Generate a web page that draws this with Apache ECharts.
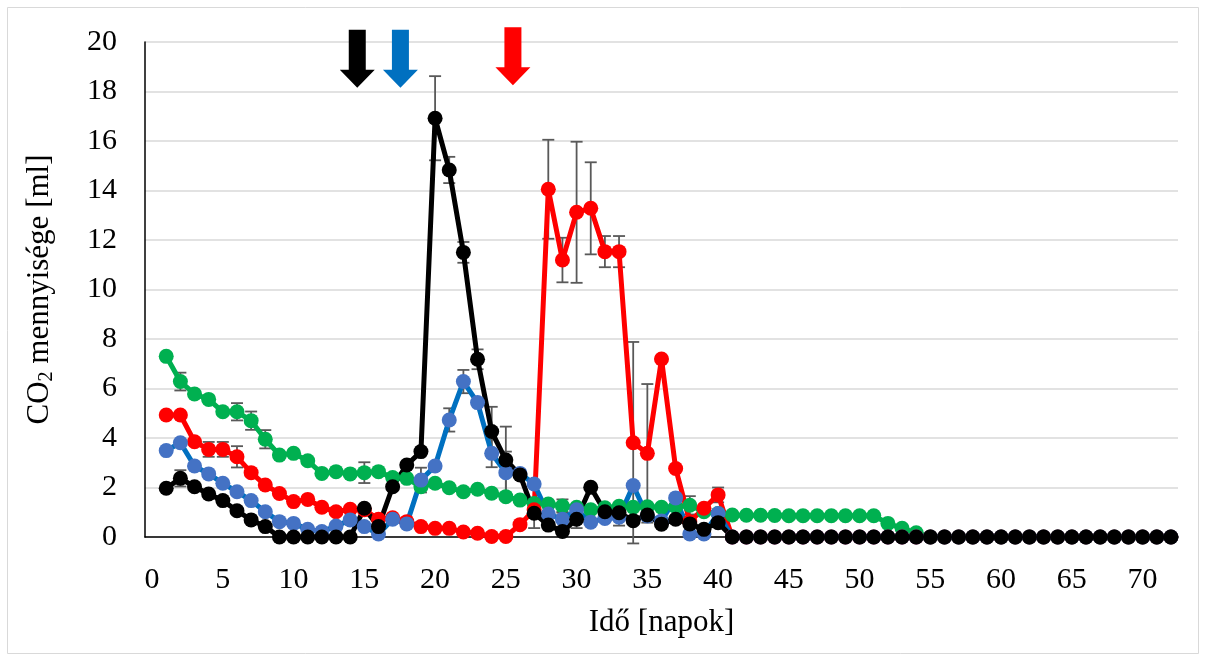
<!DOCTYPE html>
<html lang="hu">
<head>
  <meta charset="UTF-8">
  <title>CO2</title>
  <script src="https://cdn.jsdelivr.net/npm/echarts@6/dist/echarts.min.js"></script>
  <style>
    html, body { margin: 0; padding: 0; background: #fff; }
    #chart { width: 1206px; height: 661px; }
  </style>
</head>
<body>
  <div id="chart"></div>
  <script>
    // napok 1..72, a tengely 0-tól indul
    const days = Array.from({ length: 72 }, (_, i) => i + 1)
    const xCats = Array.from({ length: 73 }, (_, i) => String(i))

    const green = [
      7.3, 6.28, 5.78, 5.56, 5.06, 5.06, 4.7, 3.95, 3.31, 3.38,
      3.08, 2.57, 2.64, 2.55, 2.6, 2.64, 2.4, 2.37, 2.03, 2.17,
      1.99, 1.83, 1.93, 1.77, 1.63, 1.49, 1.35, 1.33, 1.25, 1.2,
      1.1, 1.18, 1.24, 1.2, 1.22, 1.2, 1.22, 1.28, 1.02, 0.95,
      0.89, 0.88, 0.88, 0.87, 0.86, 0.86, 0.86, 0.86, 0.86, 0.86,
      0.86, 0.55, 0.35, 0.17, 0, 0, 0, 0, 0, 0,
      0, 0, 0, 0, 0, 0, 0, 0, 0, 0,
      0, 0
    ]
    const red = [
      4.93, 4.93, 3.85, 3.54, 3.54, 3.24, 2.6, 2.1, 1.76, 1.43,
      1.52, 1.2, 1.02, 1.12, 1.1, 0.72, 0.78, 0.62, 0.42, 0.35,
      0.35, 0.2, 0.15, 0.02, 0.02, 0.5, 1.1, 14.05, 11.19, 13.12,
      13.28, 11.53, 11.53, 3.81, 3.38, 7.19, 2.77, 0.62, 1.16, 1.7,
      0, 0, 0, 0, 0, 0, 0, 0, 0, 0,
      0, 0, 0, 0, 0, 0, 0, 0, 0, 0,
      0, 0, 0, 0, 0, 0, 0, 0, 0, 0,
      0, 0
    ]
    const blue = [
      3.49, 3.81, 2.87, 2.55, 2.17, 1.83, 1.47, 1.02, 0.62, 0.55,
      0.31, 0.22, 0.44, 0.69, 0.42, 0.12, 0.72, 0.53, 2.3, 2.87,
      4.73, 6.28, 5.43, 3.38, 2.6, 2.57, 2.14, 0.93, 0.72, 1.1,
      0.6, 0.75, 0.8, 2.08, 0.85, 0.65, 1.58, 0.12, 0.12, 0.95,
      0, 0, 0, 0, 0, 0, 0, 0, 0, 0,
      0, 0, 0, 0, 0, 0, 0, 0, 0, 0,
      0, 0, 0, 0, 0, 0, 0, 0, 0, 0,
      0, 0
    ]
    const black = [
      1.97, 2.37, 2.03, 1.74, 1.47, 1.06, 0.69, 0.42, 0, 0,
      0, 0, 0, 0, 1.16, 0.42, 2.03, 2.91, 3.45, 16.92,
      14.83, 11.5, 7.18, 4.26, 3.11, 2.51, 0.96, 0.48, 0.22, 0.72,
      2.01, 1.02, 0.98, 0.66, 0.89, 0.52, 0.72, 0.53, 0.31, 0.58,
      0, 0, 0, 0, 0, 0, 0, 0, 0, 0,
      0, 0, 0, 0, 0, 0, 0, 0, 0, 0,
      0, 0, 0, 0, 0, 0, 0, 0, 0, 0,
      0, 0
    ]

    // hibasávok: [nap, +/- hiba]
    const errGreen = [[2, 0.36], [6, 0.35], [7, 0.37], [8, 0.37], [15, 0.42], [29, 0.27], [38, 0.37]]
    const errRed = [[4, 0.3], [5, 0.3], [6, 0.43], [28, 2.0], [29, 0.9], [30, 2.85], [31, 1.86],
      [32, 0.63], [33, 0.63], [34, 4.07], [35, 2.8], [40, 0.3]]
    const errBlue = [[19, 0.5], [21, 0.47], [22, 0.47], [24, 0.56], [25, 0.85], [29, 0.3], [33, 0.34]]
    const errBlack = [[2, 0.33], [20, 1.7], [21, 0.53], [22, 0.42], [23, 0.4], [24, 1.0], [25, 1.35],
      [27, 0.6], [30, 0.36]]

    // nyilak: [nap, felső y, csúcs y]
    const arrows = [
      { value: [14.5, 20.5, 18.15], color: '#000000' },
      { value: [17.55, 20.5, 18.15], color: '#0070C0' },
      { value: [25.5, 20.6, 18.25], color: '#FF0000' }
    ]

    const font = 'Liberation Serif'
    const chart = echarts.init(document.getElementById('chart'))

    function pairs(vals) {
      return days.map((d, i) => [d, vals[i]])
    }

    function errData(vals, errs) {
      return errs.map(e => [e[0], vals[e[0] - 1] - e[1], vals[e[0] - 1] + e[1]])
    }

    function renderErr(params, api) {
      const lo = api.coord([api.value(0), api.value(1)])
      const hi = api.coord([api.value(0), api.value(2)])
      const cap = 6
      const style = { stroke: '#595959', lineWidth: 1.8 }
      return {
        type: 'group',
        children: [
          { type: 'line', shape: { x1: hi[0], y1: hi[1], x2: lo[0], y2: lo[1] }, style },
          { type: 'line', shape: { x1: hi[0] - cap, y1: hi[1], x2: hi[0] + cap, y2: hi[1] }, style },
          { type: 'line', shape: { x1: lo[0] - cap, y1: lo[1], x2: lo[0] + cap, y2: lo[1] }, style }
        ]
      }
    }

    // kategória tengelyen a tört napot két szomszéd közt számoljuk
    function renderArrow(params, api) {
      const d = api.value(0)
      const d0 = Math.floor(d)
      const f = d - d0
      const a = api.coord([d0, api.value(1)])
      const b = api.coord([d0 + 1, api.value(1)])
      const x = a[0] + (b[0] - a[0]) * f
      const topY = a[1]
      const tipY = api.coord([d0, api.value(2)])[1]
      const sw = 8.5, hw = 17.5, hl = 18
      const neck = tipY - hl
      return {
        type: 'polygon',
        shape: {
          points: [
            [x - sw, topY], [x + sw, topY], [x + sw, neck], [x + hw, neck],
            [x, tipY], [x - hw, neck], [x - sw, neck]
          ]
        },
        style: { fill: api.visual('color') }
      }
    }

    function lineSeries(name, vals, lineColor, dotColor) {
      return {
        name,
        type: 'line',
        data: pairs(vals),
        symbol: 'circle',
        symbolSize: 15,
        showSymbol: true,
        showAllSymbol: true,
        z: 3,
        lineStyle: { color: lineColor, width: 5 },
        itemStyle: { color: dotColor },
        emphasis: { disabled: true },
        animation: false
      }
    }

    function errSeries(vals, errs) {
      return {
        type: 'custom',
        data: errData(vals, errs),
        renderItem: renderErr,
        z: 2,
        silent: true,
        animation: false
      }
    }

    chart.setOption({
      backgroundColor: '#ffffff',
      animation: false,
      grid: { left: 145, right: 28, top: 42, bottom: 124 },
      graphic: [{
        type: 'rect',
        shape: { x: 7.5, y: 7.5, width: 1191, height: 646 },
        style: { fill: 'none', stroke: '#d9d9d9', lineWidth: 1 },
        silent: true
      }],
      xAxis: {
        type: 'category',
        data: xCats,
        boundaryGap: true,
        name: 'Idő [napok]',
        nameLocation: 'middle',
        nameGap: 70,
        nameTextStyle: { fontFamily: font, fontSize: 31, color: '#000' },
        axisLine: { show: true, lineStyle: { color: '#000', width: 1.5 } },
        axisTick: { show: false },
        splitLine: { show: false },
        axisLabel: {
          interval: 4,
          margin: 27,
          padding: [1, 0, 0, 0],
          fontFamily: font,
          fontSize: 30,
          color: '#000'
        }
      },
      yAxis: {
        type: 'value',
        min: 0,
        max: 20,
        interval: 2,
        name: 'CO{sub|2} mennyisége [ml]',
        nameLocation: 'middle',
        nameGap: 88,
        nameTextStyle: {
          fontFamily: font,
          fontSize: 31,
          color: '#000',
          rich: {
            sub: { fontFamily: font, fontSize: 20, color: '#000', verticalAlign: 'bottom', padding: [14, 0, 0, 0] }
          }
        },
        axisLine: { show: true, lineStyle: { color: '#000', width: 1.5 } },
        axisTick: { show: false },
        splitLine: { lineStyle: { color: '#d9d9d9', width: 1.5 } },
        axisLabel: { margin: 28, fontFamily: font, fontSize: 30, color: '#000' }
      },
      series: [
        errSeries(green, errGreen),
        errSeries(red, errRed),
        errSeries(blue, errBlue),
        errSeries(black, errBlack),
        lineSeries('zöld', green, '#00B050', '#00B050'),
        lineSeries('piros', red, '#FF0000', '#FF0000'),
        lineSeries('kék', blue, '#0070C0', '#4472C4'),
        lineSeries('fekete', black, '#000000', '#000000'),
        {
          type: 'custom',
          data: arrows.map(a => ({ value: a.value, itemStyle: { color: a.color } })),
          renderItem: renderArrow,
          clip: false,
          z: 5,
          silent: true,
          animation: false
        }
      ]
    })
  </script>
</body>
</html>
